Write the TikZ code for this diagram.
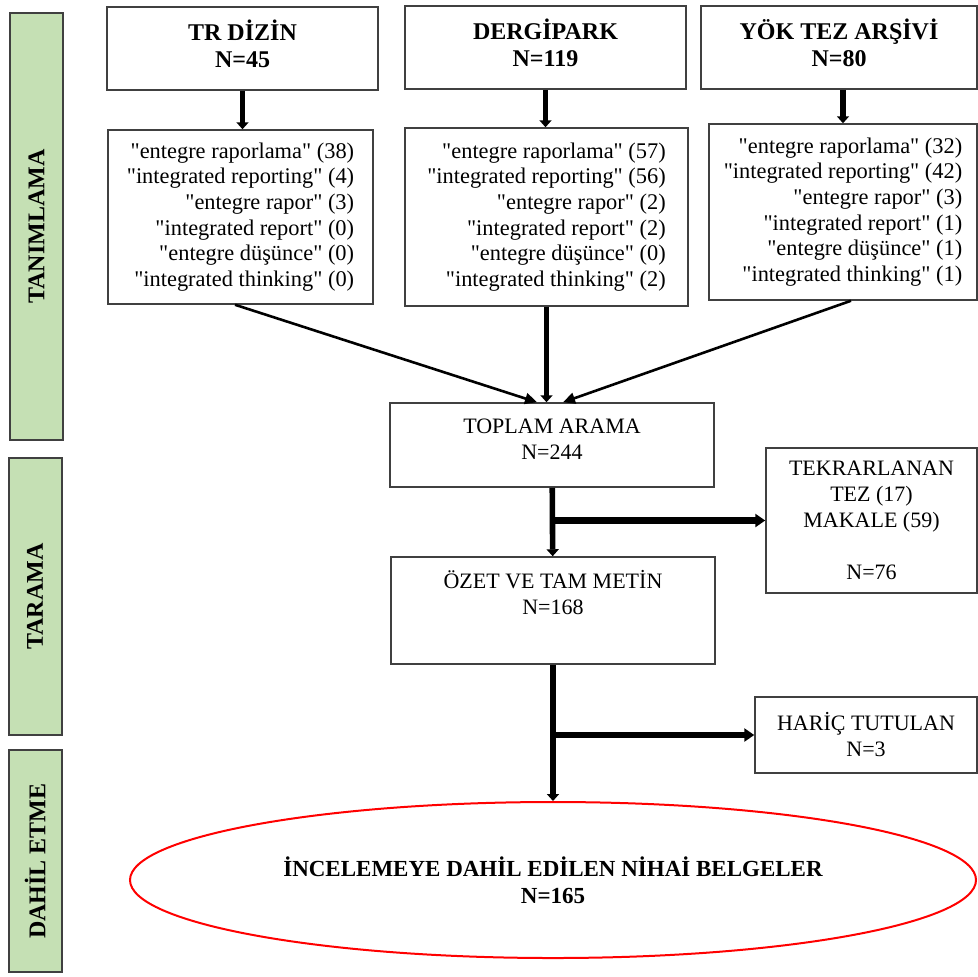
\documentclass[tikz,border=0pt]{standalone}
\usepackage{fontspec}
\setmainfont{Liberation Serif}
\newfontfamily\kwfont{Liberation Serif}
\usepackage{xcolor}
\usepackage{tikz}
\usetikzlibrary{positioning,arrows.meta,shapes.geometric}

\definecolor{phasegreen}{HTML}{C5E0B4}
\definecolor{boxline}{HTML}{404040}

\begin{document}
\begin{tikzpicture}[x=0.5pt,y=-0.5pt,
  box/.style={draw=boxline,line width=0.75pt,fill=white,align=center,inner sep=2pt},
  srcbox/.style={box,font=\fontsize{12}{13.5}\selectfont\bfseries,
                 minimum height=41.5pt,text depth=5pt},
  kwbox/.style={box,align=right,font=\kwfont\fontsize{11.2}{12.8}\selectfont},
  stepbox/.style={box,font=\fontsize{11}{13}\selectfont},
  phase/.style={draw=boxline,line width=1pt,fill=phasegreen,rotate=90,
                minimum height=26.5pt,font=\fontsize{12}{14}\selectfont\bfseries},
  thk/.style ={line width=2.8pt,-{Triangle[length=3.5pt,width=6pt]}},
  thn/.style ={line width=1.3pt,-{Triangle[length=6pt,width=5.5pt]}},
  brn/.style ={line width=3.2pt,-{Triangle[length=5pt,width=6.5pt]}}]
  \useasboundingbox (0,0) rectangle (978,976);
  % phases on the left
  \node[phase,minimum width=213.5pt] (tanim) at (36.5,226.5) {TANIMLAMA};
  \node[phase,minimum width=138.5pt] (tarama) at (35,596.5) {TARAMA};
  \node[phase,minimum width=111pt] (dahil) at (35,861) {DAH\.IL ETME};
  % sources
  \node[srcbox,minimum width=135.5pt] (tr) at (242.5,48.5) {TR D\.IZ\.IN\\N=45};
  \node[srcbox,minimum width=140.5pt] (dp) at (545.5,47.5) {DERG\.IPARK\\N=119};
  \node[srcbox,minimum width=138pt] (yok) at (839,47.5) {YÖK TEZ ARŞ\.IV\.I\\N=80};
  % search terms
  \node[kwbox,minimum width=132.5pt,minimum height=87pt] (trk) at (240.5,217)
    {"entegre raporlama" (38)\\"integrated reporting" (4)\\"entegre rapor" (3)\\
     "integrated report" (0)\\"entegre düşünce" (0)\\"integrated thinking" (0)};
  \node[kwbox,minimum width=141.5pt,minimum height=89pt] (dpk) at (546.5,217)
    {"entegre raporlama" (57)\\"integrated reporting" (56)\\"entegre rapor" (2)\\
     "integrated report" (2)\\"entegre düşünce" (0)\\"integrated thinking" (2)};
  \node[kwbox,minimum width=134pt,minimum height=88pt] (yokk) at (843,212)
    {"entegre raporlama" (32)\\"integrated reporting" (42)\\"entegre rapor" (3)\\
     "integrated report" (1)\\"entegre düşünce" (1)\\"integrated thinking" (1)};
  % screening
  \node[stepbox,minimum width=162pt,minimum height=42pt,text depth=6pt] (toplam) at (552,445)
    {TOPLAM ARAMA\\N=244};
  \node[stepbox,minimum width=105.5pt,minimum height=72.5pt] (tekrar) at (871.5,520.5)
    {TEKRARLANAN\\TEZ (17)\\MAKALE (59)\\[13pt]N=76};
  \node[stepbox,minimum width=162pt,minimum height=53.5pt,text depth=18pt] (ozet) at (553,610.5)
    {ÖZET VE TAM MET\.IN\\N=168};
  \node[stepbox,minimum width=111pt,minimum height=38pt] (haric) at (866,735)
    {HAR\.IÇ TUTULAN\\N=3};
  % final
  \node[ellipse,draw=red,line width=1pt,fill=white,align=center,inner sep=0pt,
        minimum width=423pt,minimum height=78pt,
        font=\fontsize{11.5}{13.5}\selectfont\bfseries] (son) at (553,880)
    {\.INCELEMEYE DAH\.IL ED\.ILEN N\.IHA\.I BELGELER\\N=165};

  \draw[thk] (tr.south) -- (tr.south |- trk.north);
  \draw[thk] (dp.south) -- (dp.south |- dpk.north);
  \draw[thk] (yok.south -| yokk.north) -- (yokk.north);
  \draw[thn] ([xshift=-2.75pt]trk.south) -- ([xshift=-7.5pt]toplam.north);
  \draw[thk] (dpk.south) -- (dpk.south |- toplam.north);
  \draw[thn] ([xshift=4pt]yokk.south) -- ([xshift=5.5pt]toplam.north);
  \draw[thk] (toplam) -- (ozet);
  \coordinate (j1) at (toplam.south |- tekrar.west);
  \draw[brn] (j1) -- (tekrar.west);
  \draw[thk] (ozet.south) -- (ozet.south |- son.north);
  \coordinate (j2) at (ozet.south |- haric.west);
  \draw[brn] (j2) -- (haric.west);
\end{tikzpicture}
\end{document}
